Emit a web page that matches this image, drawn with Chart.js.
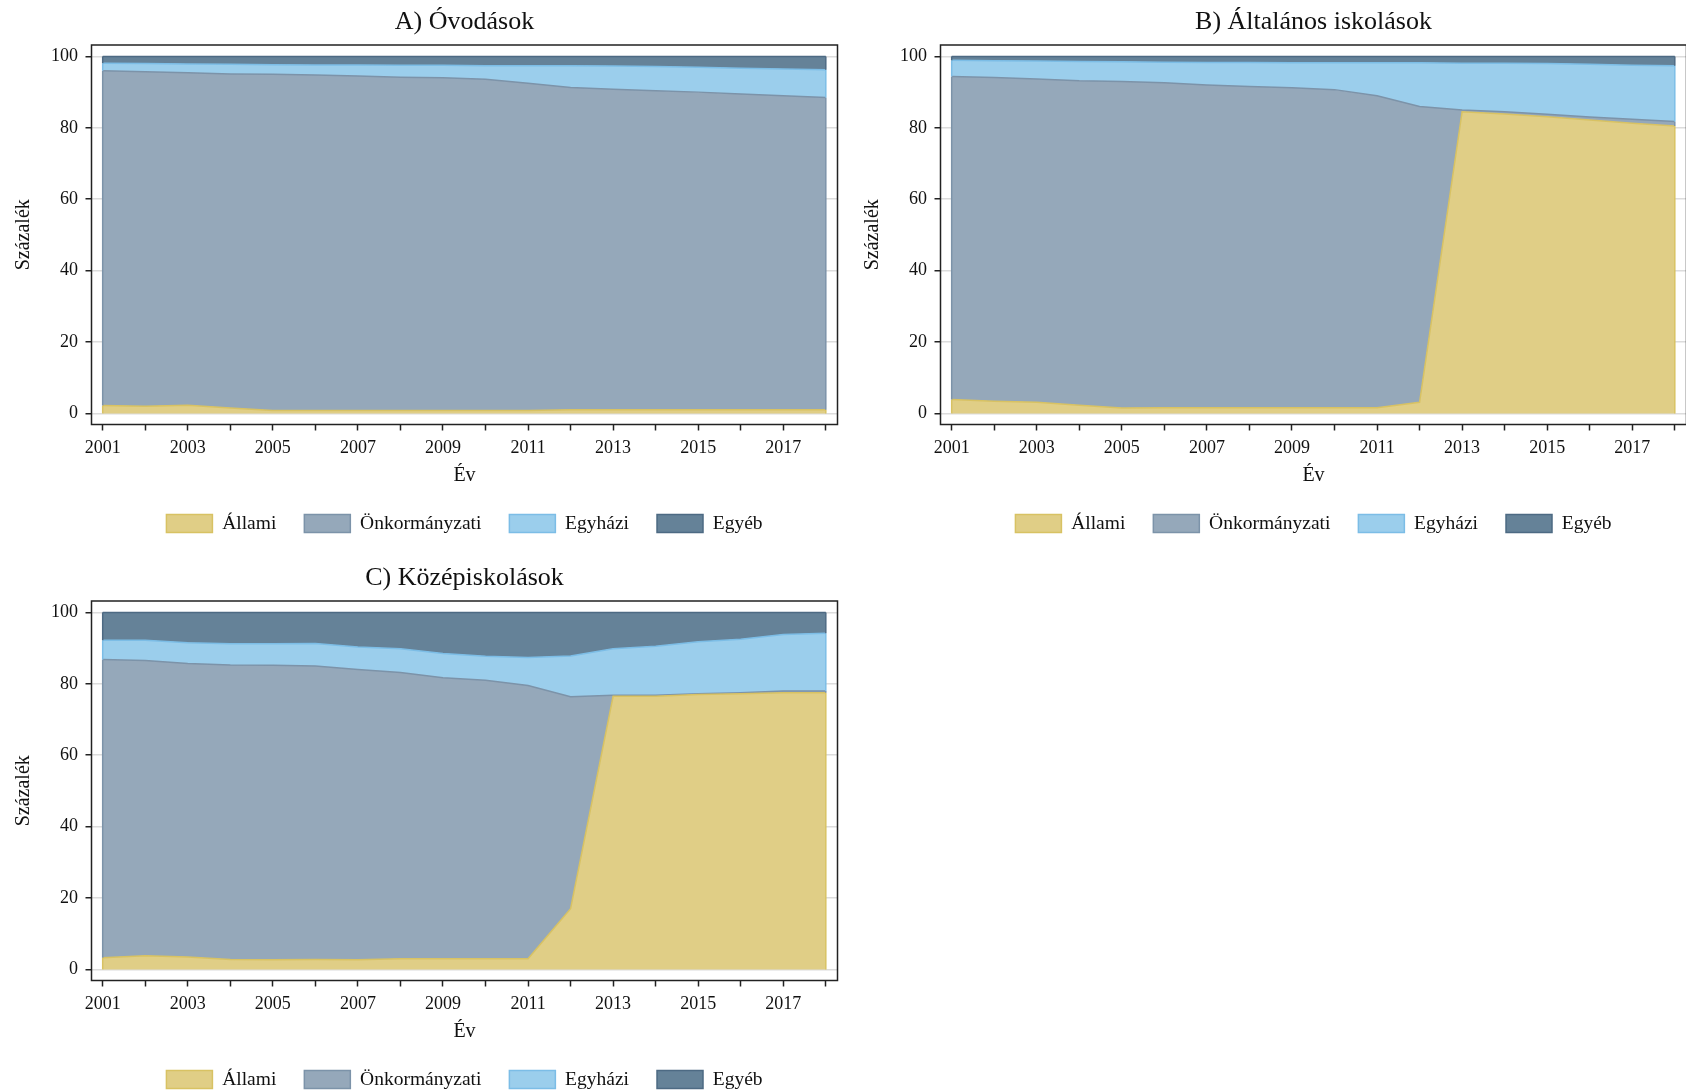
<!DOCTYPE html>
<html><head><meta charset="utf-8">
<script src="https://cdn.jsdelivr.net/npm/chart.js@4/dist/chart.umd.min.js"></script>
<style>
html,body{margin:0;padding:0;background:#fff;width:1686px;height:1091px;overflow:hidden;position:relative}
canvas{position:absolute}
</style></head><body>
<canvas id="cA" width="843" height="545" style="left:0;top:0"></canvas>
<canvas id="cB" width="843" height="545" style="left:849px;top:0"></canvas>
<canvas id="cC" width="843" height="545" style="left:0;top:556px"></canvas>
<script>
// ---- data ----
const years = [2001,2002,2003,2004,2005,2006,2007,2008,2009,2010,2011,2012,2013,2014,2015,2016,2017,2018];
const xLabelYears = [2001,2003,2005,2007,2009,2011,2013,2015,2017];
const yTicks = [0,20,40,60,80,100];
const seriesNames = ['Állami','Önkormányzati','Egyházi','Egyéb'];
const panelTitles = ['A) Óvodások','B) Általános iskolások','C) Középiskolások'];

// A) Óvodások
const ovodaAllami  = [2.2,2.0,2.3,1.5,0.8,0.8,0.8,0.8,0.8,0.8,0.8,1.0,1.0,1.0,1.0,1.0,1.0,1.0];
const ovodaOnk     = [93.8,93.7,93.1,93.6,94.2,94.0,93.7,93.4,93.2,92.8,91.7,90.3,89.8,89.4,89.0,88.5,88.0,87.5];
const ovodaEgyhazi = [2.1,2.3,2.5,2.7,2.7,2.8,3.1,3.3,3.5,3.8,4.9,6.1,6.5,6.8,7.0,7.2,7.5,7.8];
const ovodaEgyeb   = [1.9,2.0,2.1,2.2,2.3,2.4,2.4,2.5,2.5,2.6,2.6,2.6,2.7,2.8,3.0,3.3,3.5,3.7];

// B) Általános iskolások
const altAllami  = [3.9,3.4,3.1,2.3,1.5,1.6,1.6,1.6,1.6,1.6,1.6,3.1,84.5,83.9,83.1,82.2,81.3,80.5];
const altOnk     = [90.5,90.7,90.6,90.9,91.5,91.0,90.4,90.0,89.6,89.1,87.4,82.9,0.5,0.6,0.7,0.8,1.1,1.3];
const altEgyhazi = [4.5,4.7,5.0,5.4,5.5,5.8,6.3,6.7,7.0,7.5,9.2,12.2,13.1,13.6,14.2,14.8,15.1,15.6];
const altEgyeb   = [1.1,1.2,1.3,1.4,1.5,1.6,1.7,1.7,1.8,1.8,1.8,1.8,1.9,1.9,2.0,2.2,2.5,2.6];

// C) Középiskolások
const kozAllami  = [3.3,3.8,3.5,2.8,2.7,2.8,2.7,3.0,3.0,3.0,3.0,17.0,76.5,76.5,77.0,77.2,77.5,77.5];
const kozOnk     = [83.5,82.7,82.2,82.5,82.5,82.2,81.3,80.2,78.7,78.0,76.5,59.4,0.3,0.3,0.2,0.3,0.5,0.5];
const kozEgyhazi = [5.4,5.7,5.8,5.9,6.0,6.3,6.3,6.6,6.8,6.7,7.9,11.4,13.0,13.7,14.6,15.0,15.8,16.2];
const kozEgyeb   = [7.8,7.8,8.5,8.8,8.8,8.7,9.7,10.2,11.5,12.3,12.6,12.2,10.2,9.5,8.2,7.5,6.2,5.8];

// ---- styles ----
const fills   = ['#E0CE86','#95A8BA','#9BCEEC','#658298'];
const borders = ['#D8C263','#7C93A9','#7CBDE6','#4D6A83'];
const FONT = "'Liberation Serif','Times New Roman',serif";
Chart.defaults.font.family = FONT;
Chart.defaults.color = '#111';

const framePlugin = {
  id: 'frame',
  afterDatasetsDraw(chart) {
    const {ctx, chartArea: a} = chart;
    chart.data.datasets.forEach((ds, i) => {
      const meta = chart.getDatasetMeta(i);
      const pts = meta.data;
      [0, pts.length - 1].forEach(j => {
        const top = pts[j].y;
        const base = i === 0 ? chart.scales.y.getPixelForValue(0) : chart.getDatasetMeta(i - 1).data[j].y;
        ctx.save();
        ctx.strokeStyle = ds.borderColor; ctx.lineWidth = 1.5;
        ctx.beginPath(); ctx.moveTo(pts[j].x, base); ctx.lineTo(pts[j].x, top); ctx.stroke();
        ctx.restore();
      });
    });
    ctx.save();
    ctx.strokeStyle = '#222'; ctx.lineWidth = 1.5;
    ctx.strokeRect(a.left, a.top, a.right - a.left, a.bottom - a.top);
    ctx.restore();
  }
};

function makeChart(id, title, series) {
  const datasets = series.map((vals, i) => ({
    label: seriesNames[i],
    data: years.map((y, k) => ({x: y, y: vals[k]})),
    backgroundColor: fills[i],
    borderColor: borders[i],
    borderWidth: 1.5,
    pointRadius: 0,
    tension: 0,
    fill: i === 0 ? 'origin' : '-1'
  }));
  new Chart(document.getElementById(id), {
    type: 'line',
    data: {datasets},
    plugins: [framePlugin],
    options: {
      responsive: false,
      animation: false,
      events: [],
      layout: {padding: {left: 0, right: 5.5, top: 0, bottom: 1.75}},
      scales: {
        x: {
          type: 'linear', min: 2000.737, max: 2018.275,
          afterBuildTicks: s => { s.ticks = years.map(v => ({value: v})); },
          afterFit: s => { s.height = 61.25; },
          ticks: {autoSkip: false, maxRotation: 0, minRotation: 0, padding: 7,
            font: {size: 18}, color: '#111',
            callback: v => xLabelYears.includes(v) ? String(v) : ''},
          grid: {drawOnChartArea: false, drawTicks: true, tickLength: 6, tickColor: '#222', tickWidth: 1.5, color: '#222'},
          border: {display: false},
          title: {display: true, text: 'Év', font: {size: 20, lineHeight: 1}, color: '#111', padding: {top: 0, bottom: 0}}
        },
        y: {
          type: 'linear', stacked: true, min: -3.1, max: 103.2,
          afterBuildTicks: s => { s.ticks = yTicks.map(v => ({value: v})); },
          afterFit: s => { s.width = 91.5; },
          ticks: {padding: 7.5, font: {size: 18}, color: '#111', callback: v => String(v)},
          grid: {color: '#DCDCDC', lineWidth: 1.5, drawTicks: true, tickLength: 6, tickColor: '#222', tickWidth: 1.5},
          border: {display: false},
          title: {display: true, text: 'Százalék', font: {size: 20}, color: '#111', padding: {top: 11.7, bottom: 0}}
        }
      },
      plugins: {
        title: {display: true, text: title, fullSize: false, font: {size: 26, weight: 'normal'}, color: '#111', padding: {top: 7, bottom: 6.8}},
        legend: {position: 'bottom', fullSize: false,
          labels: {boxWidth: 46, boxHeight: 18, padding: 28, font: {size: 19.5}, color: '#111'}},
        tooltip: {enabled: false}
      }
    }
  });
}

makeChart('cA', panelTitles[0], [ovodaAllami, ovodaOnk, ovodaEgyhazi, ovodaEgyeb]);
makeChart('cB', panelTitles[1], [altAllami, altOnk, altEgyhazi, altEgyeb]);
makeChart('cC', panelTitles[2], [kozAllami, kozOnk, kozEgyhazi, kozEgyeb]);
</script>
</body></html>
